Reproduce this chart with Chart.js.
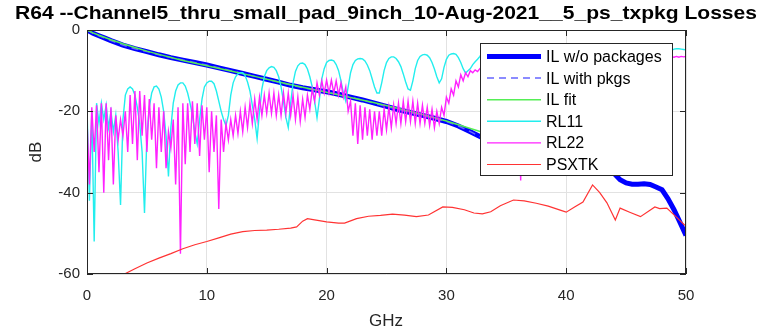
<!DOCTYPE html>
<html>
<head>
<meta charset="utf-8">
<script src="https://cdn.jsdelivr.net/npm/chart.js@4.4.1/dist/chart.umd.min.js"></script>
<style>
  html, body { margin: 0; padding: 0; background: #fff; }
  #wrap { width: 760px; height: 333px; }
</style>
</head>
<body>
<div id="wrap"><canvas id="chart" width="760" height="333"></canvas></div>
<script>
// ── DONNEES ──
const titleText = "R64 --Channel5_thru_small_pad_9inch_10-Aug-2021__5_ps_txpkg Losses";
const xTicks = [0, 10, 20, 30, 40, 50];
const yTicks = [0, -20, -40, -60];
const seriesNames = ["IL w/o packages", "IL with pkgs", "IL fit", "RL11", "RL22", "PSXTK"];

// insertion loss, GHz / dB
const ilFreq  = [0, 0.25, 0.5, 1, 1.5, 2, 3, 4, 5, 6, 7, 8, 9, 10, 11, 12, 13, 14, 15, 16, 17, 18, 19, 20,
                 21, 22, 23, 24, 25, 26, 27, 28, 29, 30, 31, 32, 33, 34, 35, 36, 37, 38, 39, 40, 41, 42, 43,
                 43.5, 44, 44.5, 45, 45.5, 46, 46.5, 47, 47.5, 48, 48.5, 49, 49.5, 50];
const ilNoPkg = [0, -0.4, -0.8, -1.4, -2.0, -2.6, -3.7, -4.6, -5.3, -6.1, -6.8, -7.4, -8.0, -8.6, -9.3, -10.0, -10.7, -11.4, -12.1, -12.8, -13.6, -14.2, -14.7, -15.2,
                 -15.8, -16.5, -17.2, -18.0, -18.8, -19.6, -20.3, -21.0, -21.7, -22.5, -23.6, -25.0, -26.5, -27.5, -28.4, -29.2, -30.0, -30.8, -31.5, -32.2, -32.8, -33.4, -34.0,
                 -34.5, -35.3, -36.8, -37.6, -37.9, -37.9, -37.8, -38.0, -38.6, -39.3, -41.5, -44.2, -47.3, -50.5];

const ilPkgFreq = [0, 0.5, 1, 2, 3, 4, 5, 6, 8, 10, 12, 14, 16, 18, 20, 22, 24, 26, 28, 30, 31, 32, 33, 34, 36, 38, 40, 42, 43];
const ilPkg     = [0, -0.8, -1.4, -2.6, -3.7, -4.6, -5.3, -6.1, -7.4, -8.6, -10.0, -11.4, -12.8, -14.2, -15.2, -16.5, -18.0, -19.6, -21.0, -22.5, -23.6, -25.0, -26.5, -27.5, -29.2, -30.8, -32.2, -33.4, -34.0];

const fitFreq = [0, 0.5, 1, 2, 3, 4, 5, 6, 8, 10, 12, 14, 16, 18, 20, 22, 24, 26, 28, 30, 32, 34, 36, 38, 40, 42, 43];
const ilFit   = [0, -0.7, -1.3, -2.4, -3.4, -4.3, -5.2, -6.0, -7.5, -8.8, -10.1, -11.4, -12.8, -14.1, -15.3, -16.6, -17.9, -19.3, -20.8, -22.4, -24.2, -26.0, -27.9, -29.8, -31.6, -33.4, -34.3];

// return loss, sampled every 0.2 GHz from 0 to 50
const rlStep = 0.2;
const rl11 = [
  /* 0  */ -19, -42, -20, -52, -18, -23, -18, -22, -18.5, -24,
  /* 2  */ -20, -25, -21, -30, -43, -22, -16, -14.5, -14, -14.5,
  /* 4  */ -16, -19, -23, -30, -45, -26, -19, -15.5, -14, -13.8,
  /* 6  */ -14.5, -16.5, -20, -26, -36, -24, -18, -15, -13.5, -13,
  /* 8  */ -13, -13.8, -15.5, -18, -21, -25, -28, -22, -17, -14,
  /* 10 */ -13, -12.6, -12.6, -13.2, -15, -17.5, -20, -22, -23.5, -21,
  /* 12 */ -16, -13, -11.5, -10.8, -10.5, -10.5, -11.2, -12.8, -15, -18.5,
  /* 14 */ -22, -26.7, -20, -14.5, -11.5, -10, -9.3, -9, -9.2, -10,
  /* 16 */ -11.5, -14, -17.5, -21.5, -24, -18, -13, -10.2, -8.8, -8.2,
  /* 18 */ -8.1, -8.5, -9.6, -11.5, -14, -17.5, -21.6, -17, -12, -9.5,
  /* 20 */ -8, -7.5, -7.4, -7.6, -8.5, -10, -12.5, -15.5, -17.5, -14,
  /* 22 */ -10.5, -8.5, -7.5, -7.1, -7, -7.1, -7.6, -8.6, -10, -12,
  /* 24 */ -14, -15.5, -15.5, -13, -10, -8, -7, -6.6, -6.6, -7,
  /* 26 */ -7.8, -9, -10.8, -12.8, -14.5, -14.8, -12.5, -9.5, -7.5, -6.5,
  /* 28 */ -6.1, -6, -6.2, -6.8, -8, -9.6, -11.5, -13, -12, -9.2,
  /* 30 */ -7.2, -6.2, -5.9, -5.8, -6, -6.8, -8, -9.5, -10.6, -10,
  /* 32 */ -9.5, -8.5, -7.8, -7.2, -6.5,
  /* 33 */ -5.5, -4.8, -4.4, -4.3, -4.5, -5, -6, -7.5, -8.5, -7,
  /* 35 */ -5.8, -5, -4.5, -4.3, -4.3, -4.6, -5.3, -6.5, -8, -7.2,
  /* 37 */ -5.8, -4.9, -4.4, -4.2, -4.2, -4.5, -5.2, -6.4, -7.8, -7,
  /* 39 */ -5.6, -4.8, -4.3, -4.1, -4.2, -4.5, -5.2, -6.3, -7.5, -6.8,
  /* 41 */ -5.5, -4.7, -4.3, -4.1, -4.2, -4.6, -5.3, -6.4, -7.4, -6.6,
  /* 43 */ -5.4, -4.7, -4.3, -4.2, -4.3, -4.7, -5.4, -6.4, -7.2, -6.4,
  /* 45 */ -5.3, -4.7, -4.4, -4.3, -4.4, -4.8, -5.4, -6.2, -6.8, -6,
  /* 47 */ -5.2, -4.7, -4.5, -4.4, -4.5, -4.8, -5.2, -5.6, -5.4, -5,
  /* 49 */ -4.7, -4.6, -4.6, -4.7, -4.8, -4.9
];
const rl22 = [
  /* 0  */ -22, -38, -19, -30, -18.5, -35, -18, -40, -18, -32,
  /* 2  */ -19, -38, -21, -27, -22, -26, -20, -30, -16, -28,
  /* 4  */ -15, -32, -15, -26, -16, -30, -17, -27, -18, -34,
  /* 6  */ -19, -30, -20, -34, -25, -29, -22, -38, -19, -55,
  /* 8  */ -18, -33, -18, -30, -17.5, -28, -18, -31, -18.5, -27,
  /* 10 */ -19, -35, -20, -30, -21, -44, -22, -30, -23, -27,
  /* 12 */ -22, -26, -21, -25.5, -20, -25, -19, -24, -18, -23,
  /* 14 */ -17, -22, -16.5, -21, -16, -20.5, -15.5, -20.5, -15.5, -21,
  /* 16 */ -16, -21, -15.5, -20.5, -15.5, -21, -16, -22, -16.5, -22.5,
  /* 18 */ -17, -21.5, -16, -19.5, -14.5, -17.5, -13, -16, -12.5, -15.5,
  /* 20 */ -12.3, -15.5, -12.3, -15.5, -12.5, -16, -13, -16.5, -14, -20,
  /* 22 */ -17.5, -26, -18, -28, -18.5, -27, -19, -26, -19.5, -27,
  /* 24 */ -20, -26, -20, -26, -19.5, -24.5, -19, -24, -18.5, -23,
  /* 26 */ -18, -23, -17.5, -22.5, -17.5, -22.5, -17.5, -23, -18, -23,
  /* 28 */ -18.5, -23, -19, -23.5, -19.5, -24, -20, -23, -19, -21,
  /* 30 */ -16.5, -18, -14.5, -16, -12.5, -14, -11, -12.5, -10.5, -11.5,
  /* 32 */ -10, -10.5, -9.8, -10.2, -9.5,
  /* 33 */ -9.8, -9.2, -9.6, -9, -9.4, -8.8, -9.2, -8.6, -9, -8.5,
  /* 35 */ -9, -8.4, -9, -8.6, -10, -14, -37, -14, -9.5, -8.4,
  /* 37 */ -8.8, -8.2, -8.6, -8, -8.5, -7.9, -8.4, -7.8, -8.3, -7.7,
  /* 39 */ -8.2, -7.6, -8, -7.5, -7.9, -7.4, -7.8, -7.3, -7.7, -7.2,
  /* 41 */ -7.6, -7.1, -7.5, -7, -7.4, -7, -7.3, -6.9, -7.3, -6.9,
  /* 43 */ -7.2, -6.8, -7.2, -6.8, -7.1, -6.7, -7.1, -6.7, -7, -6.7,
  /* 45 */ -7, -6.6, -7, -6.6, -6.9, -6.6, -6.9, -6.6, -6.9, -6.6,
  /* 47 */ -6.9, -6.6, -6.8, -6.6, -6.8, -6.6, -6.8, -6.7, -6.8, -6.6,
  /* 49 */ -6.7, -6.5, -6.7, -6.5, -6.6, -6.5
];

// crosstalk, GHz / dB
const xtkFreq = [3, 4, 5, 6, 7, 8, 9, 10, 11, 12, 13, 14, 15, 16, 17, 17.5, 18, 18.4, 19, 20, 21, 21.5, 22.5, 23.5,
                 24.5, 25.5, 26.5, 27.5, 28.5, 29.7, 30.5, 31.5, 32.3, 33, 33.7, 34.5, 35.6, 36.5, 37.5, 38.5, 39.5,
                 40, 40.7, 41.4, 42.2, 42.8, 43.4, 44.1, 44.5, 45.3, 46.2, 47.4, 47.8, 48.4, 49.2, 49.9];
const psxtk   = [-60.2, -58.7, -57.3, -56.1, -55, -53.8, -52.8, -52, -51.1, -50.2, -49.6, -49.3, -49.2, -49, -48.7, -48.4, -47, -46.4, -46.7, -47.2, -47.5, -47.5, -46.4, -45.8,
                 -45.6, -45.3, -45.5, -45.9, -45.5, -43.5, -43.6, -44.2, -45, -45.2, -44.7, -43.2, -41.8, -42, -42.6, -43.3, -44.3,
                 -44.8, -43.5, -42.3, -38.1, -40, -42.5, -46.7, -43.8, -44.8, -45.9, -43.5, -43.9, -43.8, -46, -48];

// ── STYLES ──
const FONT = "Arial, 'Liberation Sans', Helvetica, sans-serif";
const AXIS_COLOR = "#262626";
const styles = [
  { color: "#0000ff", width: 5,   dash: [] },
  { color: "#6666ff", width: 1.5, dash: [7, 5] },
  { color: "#55ee55", width: 1.5, dash: [] },
  { color: "#22eeee", width: 1.4, dash: [] },
  { color: "#ff22ff", width: 1.4, dash: [] },
  { color: "#ff3333", width: 1.2, dash: [] }
];

function pairs(xs, ys) {
  return ys.map((y, i) => ({ x: xs[i], y: y }));
}
function stepPairs(ys, step) {
  return ys.map((y, i) => ({ x: Math.round(i * step * 10) / 10, y: y }));
}

const seriesData = [
  pairs(ilFreq, ilNoPkg),
  pairs(ilPkgFreq, ilPkg),
  pairs(fitFreq, ilFit),
  stepPairs(rl11, rlStep),
  stepPairs(rl22, rlStep),
  pairs(xtkFreq, psxtk)
];

const datasets = seriesData.map((d, i) => ({
  label: seriesNames[i],
  data: d,
  borderColor: styles[i].color,
  borderWidth: styles[i].width,
  borderDash: styles[i].dash,
  pointRadius: 0,
  tension: 0,
  fill: false,
  order: seriesData.length - i   // plus tard = dessus, comme matlab
}));

// ── DECOR (titre, cadre, legende) ──
const decor = {
  id: "decor",
  beforeDatasetsDraw(chart) {
    const { ctx } = chart;
    ctx.save();
    ctx.fillStyle = "#000";
    ctx.font = "bold 19px " + FONT;
    ctx.textAlign = "center";
    ctx.textBaseline = "middle";
    // titre etire a la largeur du modele (~742 px)
    const w = ctx.measureText(titleText).width;
    ctx.save();
    ctx.translate(386, 14);
    ctx.scale(742 / w, 1);
    ctx.fillText(titleText, 0, 0);
    ctx.restore();

    ctx.fillStyle = AXIS_COLOR;
    ctx.font = "17px " + FONT;
    ctx.fillText("GHz", 386, 321);
    ctx.translate(36, 152);
    ctx.rotate(-Math.PI / 2);
    ctx.fillText("dB", 0, 0);
    ctx.restore();
  },
  afterDatasetsDraw(chart) {
    const { ctx, chartArea: a, scales } = chart;
    ctx.save();
    // cadre + ticks interieurs
    ctx.strokeStyle = AXIS_COLOR;
    ctx.lineWidth = 1;
    ctx.strokeRect(a.left + 0.5, a.top + 0.5, a.right - a.left - 1, a.bottom - a.top - 1);
    ctx.beginPath();
    xTicks.forEach(t => {
      const x = Math.round(scales.x.getPixelForValue(t)) + 0.5;
      ctx.moveTo(x, a.bottom); ctx.lineTo(x, a.bottom - 6);
      ctx.moveTo(x, a.top);    ctx.lineTo(x, a.top + 6);
    });
    yTicks.forEach(t => {
      const y = Math.round(scales.y.getPixelForValue(t)) + 0.5;
      ctx.moveTo(a.left, y);  ctx.lineTo(a.left + 6, y);
      ctx.moveTo(a.right, y); ctx.lineTo(a.right - 6, y);
    });
    ctx.stroke();

    // legende
    const lx = 480, ly = 43, lw = 192, lh = 132;
    ctx.fillStyle = "#fff";
    ctx.fillRect(lx, ly, lw, lh);
    ctx.strokeRect(lx + 0.5, ly + 0.5, lw, lh);
    ctx.font = "16px " + FONT;
    ctx.textAlign = "left";
    ctx.textBaseline = "middle";
    seriesNames.forEach((name, i) => {
      const y = ly + 13.5 + i * 21.6;
      ctx.beginPath();
      ctx.strokeStyle = styles[i].color;
      ctx.lineWidth = styles[i].width;
      ctx.setLineDash(styles[i].dash);
      ctx.moveTo(lx + 7, y);
      ctx.lineTo(lx + 61, y);
      ctx.stroke();
      ctx.setLineDash([]);
      ctx.fillStyle = "#000";
      ctx.fillText(name, lx + 66, y + 1);
    });
    ctx.restore();
  }
};

new Chart(document.getElementById("chart"), {
  type: "line",
  data: { datasets: datasets },
  options: {
    responsive: false,
    devicePixelRatio: 1,
    animation: false,
    layout: { padding: { top: 30, right: 74, left: 0, bottom: 0 } },
    plugins: { legend: { display: false }, title: { display: false }, tooltip: { enabled: false } },
    scales: {
      x: {
        type: "linear", min: 0, max: 50,
        afterFit: s => { s.height = 59; },
        afterBuildTicks: s => { s.ticks = xTicks.map(v => ({ value: v })); },
        grid: { color: "#e2e2e2", drawTicks: false },
        border: { display: false },
        ticks: { color: AXIS_COLOR, font: { size: 15, family: FONT }, padding: 13, maxRotation: 0 }
      },
      y: {
        type: "linear", min: -60, max: 0,
        afterFit: s => { s.width = 87; },
        afterBuildTicks: s => { s.ticks = yTicks.map(v => ({ value: v })); },
        grid: { color: "#e2e2e2", drawTicks: false },
        border: { display: false },
        ticks: { color: AXIS_COLOR, font: { size: 15, family: FONT }, padding: 7 }
      }
    }
  },
  plugins: [decor]
});
</script>
</body>
</html>
